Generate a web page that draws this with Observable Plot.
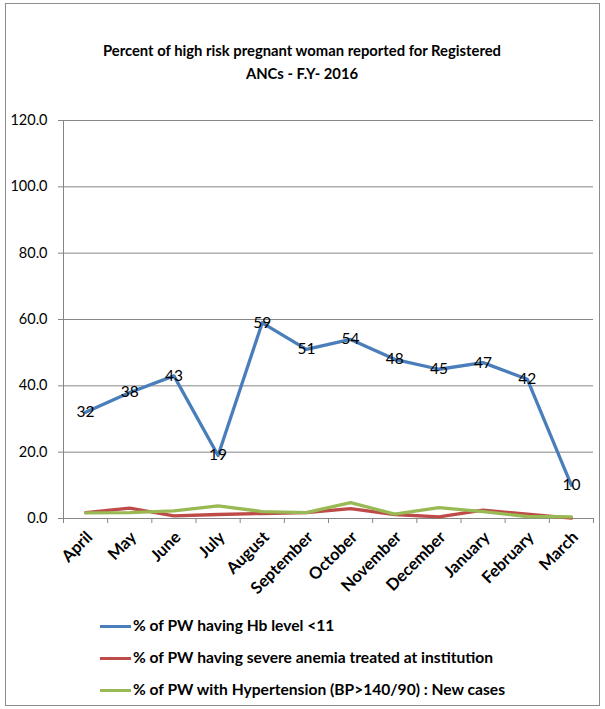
<!DOCTYPE html>
<html>
<head>
<meta charset="utf-8">
<script src="https://cdn.jsdelivr.net/npm/d3@7"></script>
<script src="https://cdn.jsdelivr.net/npm/@observablehq/plot@0.6"></script>
<style>
  html, body { margin: 0; padding: 0; background: #fff; }
  #wrap { position: relative; width: 605px; height: 709px; overflow: hidden; font-family: Lato, "Open Sans", sans-serif; }
  #frame { position: absolute; left: 5px; top: 3px; width: 595px; height: 703px; border: 1px solid #8c8c8c; box-sizing: border-box; }
  #title { position: absolute; left: 60px; width: 484px; top: 39px; text-align: center; font-weight: bold; font-size: 14.8px; line-height: 23px; color: #000; }
  #chart { position: absolute; left: 0; top: 0; }
  .leg { position: absolute; left: 100px; font-weight: bold; font-size: 15.6px; color: #000; white-space: nowrap; }
  .sw { display: inline-block; width: 31px; height: 3px; vertical-align: middle; margin-right: 2px; position: relative; top: -1px; }
</style>
</head>
<body>
<div id="wrap">
  <div id="frame"></div>
  <div id="chart"></div>
  <div id="title">Percent of high risk pregnant woman reported for Registered<br>ANCs - F.Y- 2016</div>
  <div id="legend"></div>
</div>
<script>
const months = ["April","May","June","July","August","September","October","November","December","January","February","March"];
const hbLow = [32,38,43,19,59,51,54,48,45,47,42,10];
const severeAnemia = [1.8,3.1,0.8,1.2,1.5,1.8,3.0,1.2,0.5,2.5,1.3,0.1];
const hypertension = [1.7,1.8,2.3,3.8,2.1,1.8,4.8,1.3,3.3,2.1,0.6,0.5];
const yTicks = [0,20,40,60,80,100,120];
const seriesNames = [
  "% of PW having Hb level <11",
  "% of PW having severe anemia treated at institution",
  "% of PW with Hypertension (BP>140/90) : New cases"
];
const colors = ["#4a7ebb","#be4b48","#98b954"];

const idx = months.map((m,i)=>i);
const boundaries = d3.range(months.length + 1).map(i => i - 0.5);
const toRows = vals => vals.map((v,i)=>({i, v}));

const chart = Plot.plot({
  width: 605,
  height: 709,
  marginLeft: 63,
  marginRight: 12,
  marginTop: 120,
  marginBottom: 191,
  style: {fontFamily: "Lato, 'Open Sans', sans-serif", background: "transparent", overflow: "visible"},
  x: {domain: [-0.5, months.length - 0.5]},
  y: {domain: [0, 120]},
  marks: [
    Plot.ruleY(yTicks.filter(d => d > 0), {stroke: "#868686", strokeWidth: 1}),
    Plot.ruleX([-0.5], {stroke: "#868686"}),
    Plot.ruleY([0], {stroke: "#868686"}),
    Plot.axisY({ticks: yTicks, tickFormat: d => d.toFixed(1), tickSize: 5, tickPadding: 11, stroke: "#868686", fill: "#000", fontSize: 14.5, label: null}),
    Plot.axisX({ticks: boundaries, tickSize: 5, tickFormat: () => "", stroke: "#868686", label: null}),
    Plot.axisX({ticks: idx, tickSize: 0, tickPadding: 16, dx: 4, tickFormat: i => months[i], tickRotate: -45, fontWeight: "bold", fontSize: 16.5, fill: "#000", label: null}),
    Plot.line(toRows(hbLow), {x: "i", y: "v", stroke: colors[0], strokeWidth: 3.3}),
    Plot.line(toRows(severeAnemia), {x: "i", y: "v", stroke: colors[1], strokeWidth: 3.3}),
    Plot.line(toRows(hypertension), {x: "i", y: "v", stroke: colors[2], strokeWidth: 3.3}),
    Plot.text(toRows(hbLow), {x: "i", y: "v", text: d => String(d.v), fontSize: 15.5, fill: "#000"})
  ]
});
document.getElementById("chart").appendChild(chart);

const legend = document.getElementById("legend");
const legTops = [616, 648, 680];
seriesNames.forEach((name, k) => {
  const row = document.createElement("div");
  row.className = "leg";
  row.style.top = legTops[k] + "px";
  const sw = document.createElement("span");
  sw.className = "sw";
  sw.style.background = colors[k];
  row.appendChild(sw);
  row.appendChild(document.createTextNode(name));
  legend.appendChild(row);
});
</script>
</body>
</html>
